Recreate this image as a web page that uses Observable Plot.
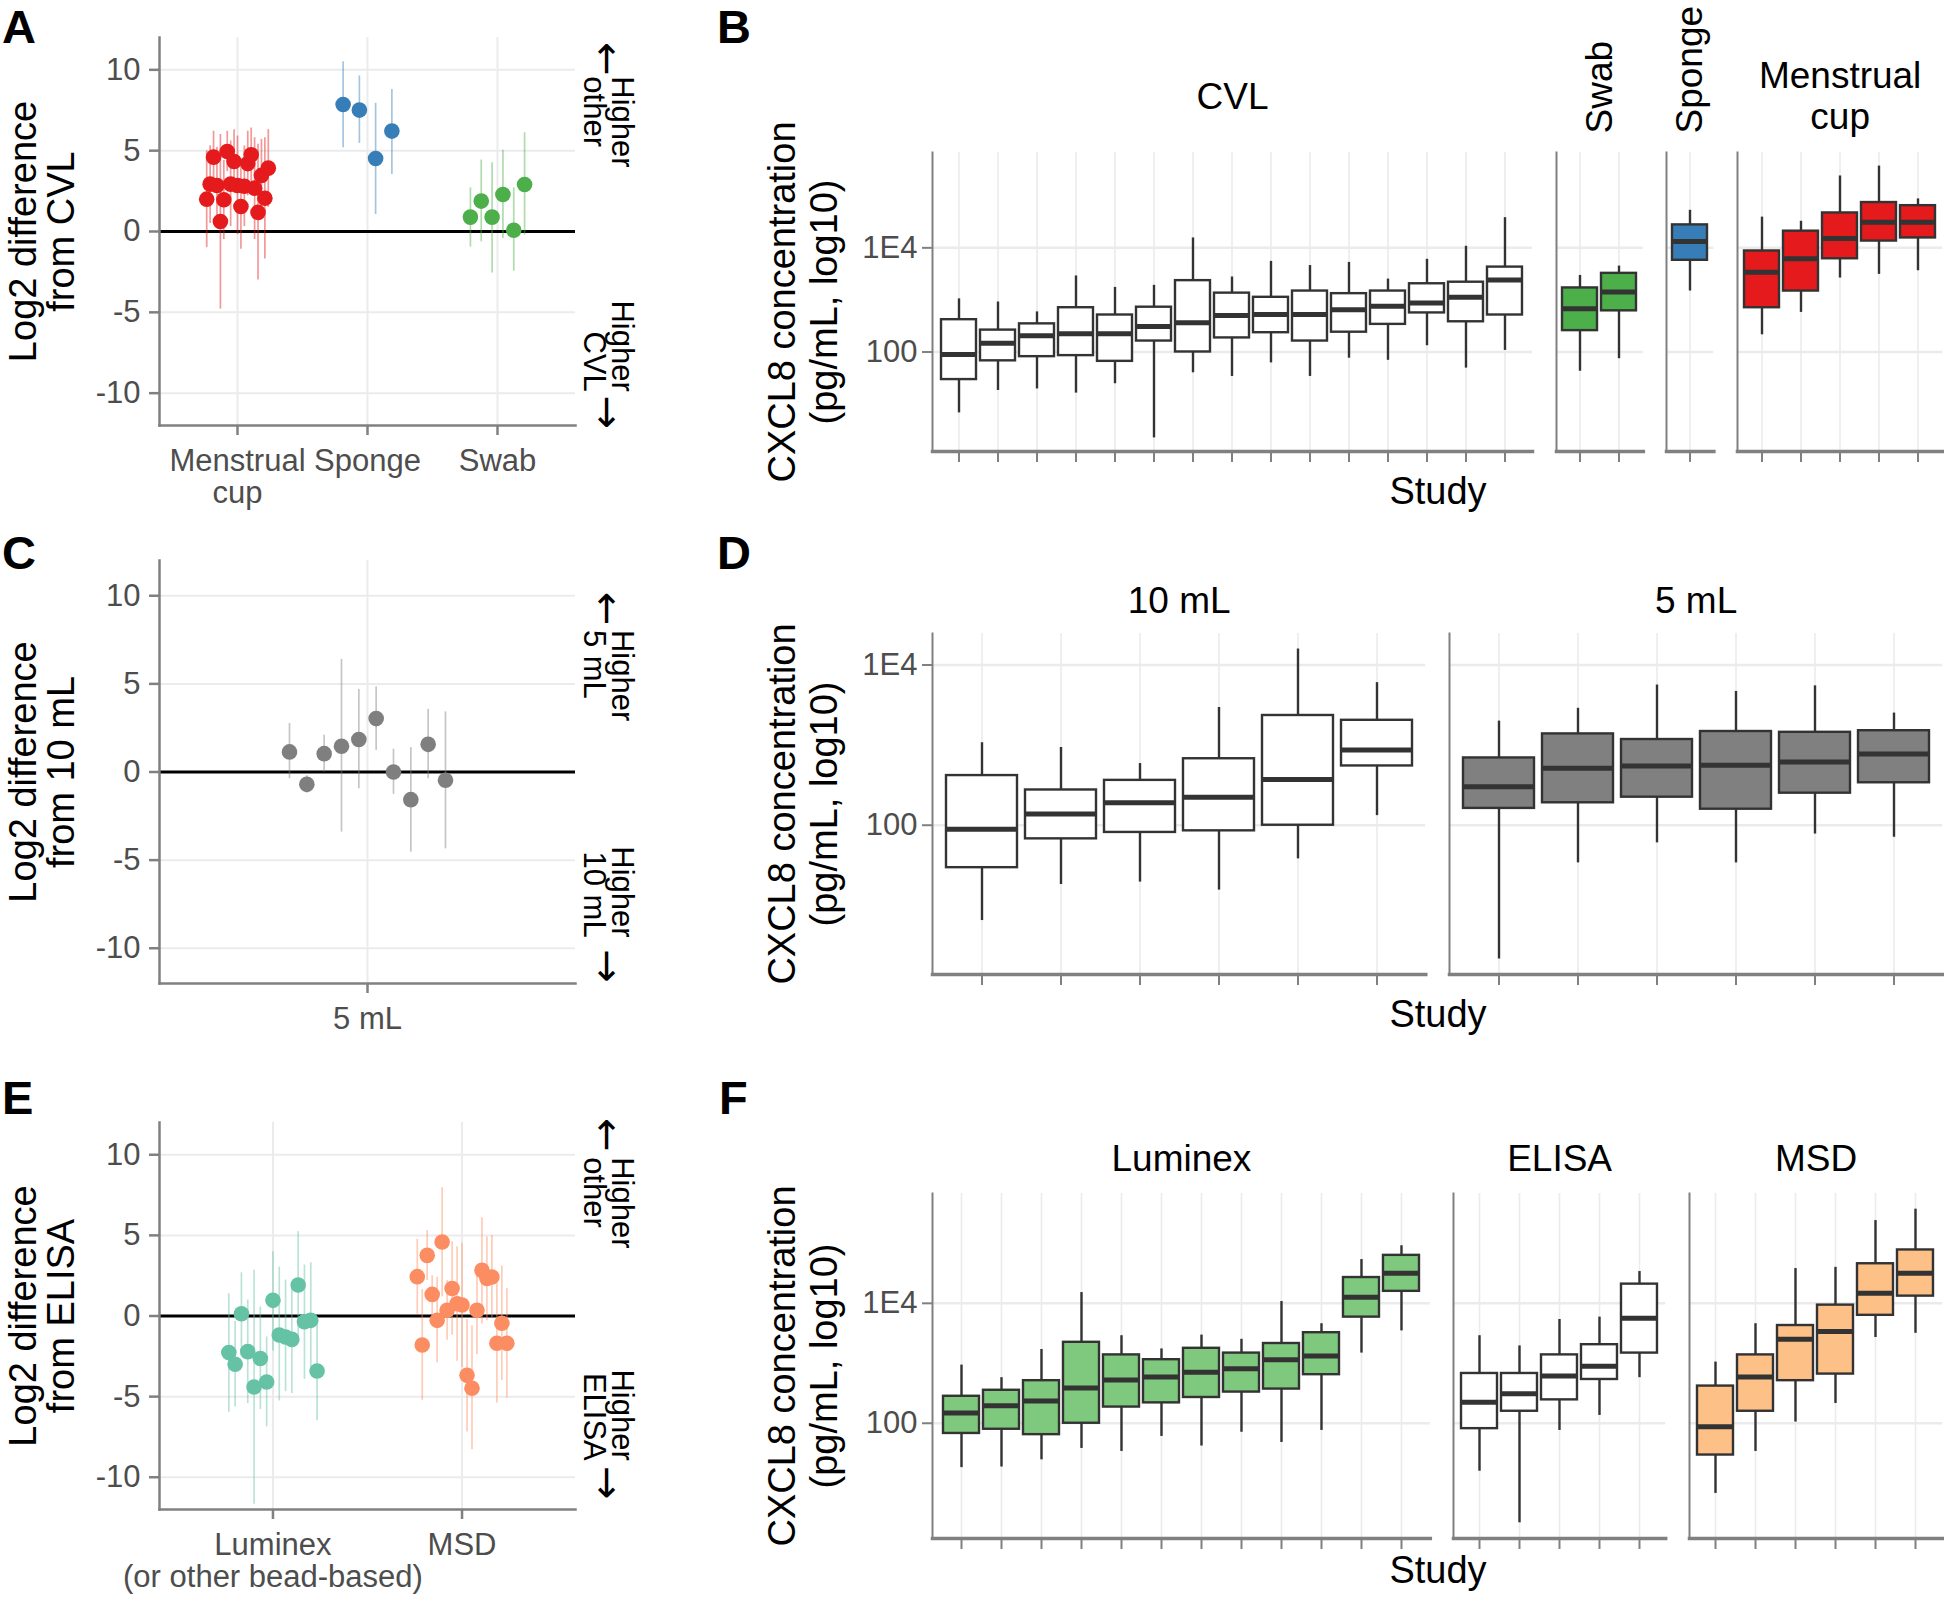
<!DOCTYPE html>
<html><head><meta charset="utf-8">
<script src="https://cdn.jsdelivr.net/npm/d3@7"></script>
<script src="https://cdn.jsdelivr.net/npm/@observablehq/plot@0.6"></script>
<style>
html,body{margin:0;padding:0;background:#fff;}
#fig{position:relative;width:1944px;height:1597px;background:#fff;overflow:hidden;font-family:"Liberation Sans",Arial,Helvetica,sans-serif;}
.lbl{position:absolute;font-weight:bold;font-size:47px;line-height:47px;color:#000;}
.study{position:absolute;font-size:38px;line-height:38px;color:#000;transform:translateX(-50%);white-space:nowrap;}
</style></head><body><div id="fig"></div>
<script>
// ---------------- DATA ----------------
// Panel A: log2 difference from CVL (estimate, CI low, CI high), per study, in plotted order
const aGroups = ["Menstrual cup", "Sponge", "Swab"];
const aTickLabels = ["Menstrual\ncup", "Sponge", "Swab"];
const aColors = ["#E41A1C", "#377EB8", "#4DAF4A"];
const aCupEst = [2.0, 2.93, 4.6, 2.85, 0.62, 1.96, 4.95, 2.93, 4.33, 2.85, 1.55, 2.8, 4.2, 4.75, 2.68, 1.18, 3.47, 2.06, 3.92];
const aCupLo  = [-1.0, 0.5, 3.0, 0.5, -4.8, -0.5, 3.7, 0.3, 2.4, -0.2, -1.1, 0.3, 2.2, 3.1, -0.5, -3.0, 1.2, -1.7, 1.5];
const aCupHi  = [5.0, 5.3, 6.2, 5.2, 6.0, 4.4, 6.2, 5.6, 6.3, 5.9, 4.2, 5.3, 6.2, 6.4, 5.8, 5.4, 5.7, 5.8, 6.3];
const aSpongeEst = [7.86, 7.51, 4.52, 6.21];
const aSpongeLo  = [5.18, 5.45, 1.05, 3.53];
const aSpongeHi  = [10.5, 9.62, 7.93, 8.79];
const aSwabEst = [0.89, 1.88, 0.89, 2.29, 0.08, 2.91];
const aSwabLo  = [-0.97, -0.64, -2.56, -0.43, -2.46, -0.23];
const aSwabHi  = [2.70, 4.42, 4.25, 5.02, 2.70, 6.11];

// Panel C: log2 difference from 10 mL
const cGroups = ["5 mL"];
const cColor = "#7F7F7F";
const cEst = [1.14, -0.70, 1.04, 1.46, 1.84, 3.03, 0.0, -1.57, 1.57, -0.47];
const cLo  = [-0.38, -1.19, 0.0, -3.41, -0.95, 1.23, -1.27, -4.55, -0.38, -4.36];
const cHi  = [2.75, -0.21, 2.09, 6.39, 4.68, 4.83, 1.29, 1.38, 3.56, 3.41];

// Panel E: log2 difference from ELISA
const eGroups = ["Luminex", "MSD"];
const eTickLabels = ["Luminex\n(or other bead-based)", "MSD"];
const eColors = ["#66C2A5", "#FC8D62"];
const eLumEst = [-2.27, -2.99, 0.14, -2.21, -4.40, -2.64, -4.09, 0.97, -1.18, -1.30, -1.45, 1.92, -0.35, -0.27, -3.41];
const eLumLo  = [-5.97, -5.64, -2.4, -5.43, -11.68, -5.8, -6.88, -2.17, -5.27, -4.69, -4.81, -1.34, -3.92, -3.2, -6.5];
const eLumHi  = [1.38, -0.34, 2.68, 0.99, 2.83, 0.56, -1.30, 3.99, 3.04, 2.23, 1.71, 5.23, 3.16, 3.30, -0.3];
const eMsdEst = [2.44, -1.80, 3.76, 1.34, -0.27, 4.59, 0.35, 1.71, 0.76, 0.68, -3.68, -4.48, 0.35, 2.83, 2.33, 2.42, -1.69, -0.45, -1.69];
const eMsdLo  = [0.1, -5.23, 2.2, 0.1, -2.9, 1.2, -1.5, -1.2, -2.8, -3.2, -7.2, -8.3, -2.4, -0.5, -0.3, -0.1, -5.4, -4.0, -5.1];
const eMsdHi  = [4.75, 1.65, 5.31, 2.5, 2.4, 7.95, 2.2, 4.6, 4.3, 4.5, -0.2, -0.6, 3.1, 6.1, 4.9, 5.0, 2.0, 3.1, 1.7];

const diffTicks = [-10, -5, 0, 5, 10];

// Boxplots: CXCL8 concentration, log10 pg/mL, per study: [whisker low, Q1, median, Q3, whisker high]
const boxYTicks = [2, 4];
const boxYLabels = ["100", "1E4"];
const bCVL = [[0.83,1.47,1.95,2.62,3.02],[1.26,1.83,2.17,2.42,2.96],[1.29,1.91,2.31,2.54,2.77],[1.21,1.93,2.35,2.85,3.46],[1.39,1.82,2.35,2.71,3.24],[0.35,2.21,2.49,2.86,3.28],[1.60,2.00,2.56,3.37,4.19],[1.53,2.27,2.70,3.13,3.44],[1.79,2.37,2.72,3.05,3.74],[1.53,2.21,2.72,3.17,3.66],[1.88,2.38,2.81,3.12,3.72],[1.84,2.53,2.88,3.17,3.40],[2.12,2.75,2.94,3.31,3.78],[1.69,2.58,3.05,3.34,4.03],[2.03,2.71,3.38,3.63,4.58]];
const bSwab = [[1.63,2.41,2.83,3.23,3.47],[1.87,2.79,3.15,3.51,3.65]];
const bSponge = [[3.17,3.76,4.12,4.44,4.72]];
const bCup = [[2.33,2.85,3.53,3.94,4.59],[2.76,3.17,3.79,4.32,4.51],[3.42,3.79,4.18,4.67,5.38],[3.49,4.13,4.49,4.87,5.57],[3.56,4.19,4.49,4.81,4.94]];
const d10 = [[0.81,1.47,1.95,2.62,3.03],[1.26,1.83,2.14,2.44,2.97],[1.29,1.91,2.28,2.56,2.77],[1.19,1.93,2.35,2.83,3.47],[1.58,2.00,2.57,3.37,4.20],[2.12,2.74,2.94,3.31,3.78]];
const d5 = [[0.33,2.21,2.48,2.84,3.30],[1.53,2.28,2.71,3.14,3.46],[1.78,2.35,2.74,3.07,3.75],[1.53,2.20,2.75,3.17,3.67],[1.89,2.40,2.79,3.16,3.74],[1.85,2.53,2.89,3.18,3.40]];
const fLum = [[1.26,1.83,2.17,2.45,2.97],[1.27,1.90,2.29,2.55,2.76],[1.39,1.81,2.37,2.71,3.23],[1.58,2.00,2.59,3.35,4.18],[1.53,2.27,2.72,3.14,3.46],[1.78,2.34,2.77,3.06,3.24],[1.62,2.43,2.85,3.25,3.47],[1.85,2.52,2.91,3.17,3.40],[1.68,2.57,3.06,3.33,4.03],[1.88,2.81,3.12,3.51,3.66],[3.17,3.77,4.10,4.43,4.73],[3.54,4.20,4.50,4.80,4.96]];
const fElisa = [[1.20,1.91,2.35,2.83,3.46],[0.34,2.20,2.49,2.83,3.29],[1.88,2.39,2.79,3.14,3.73],[2.13,2.73,2.95,3.31,3.77],[2.76,3.17,3.75,4.32,4.53]];
const fMsd = [[0.83,1.47,1.94,2.62,3.02],[1.53,2.20,2.77,3.14,3.66],[2.02,2.71,3.40,3.63,4.58],[2.33,2.82,3.53,3.97,4.60],[3.43,3.80,4.17,4.66,5.38],[3.50,4.12,4.50,4.89,5.57]];

// ---------------- STYLE ----------------
const FONT = '"Liberation Sans", Arial, Helvetica, sans-serif';
const ARROW_FONT = '"DejaVu Sans", sans-serif';
const AXIS_GRAY = "#808080", TEXT_GRAY = "#4d4d4d", GRID = "#ebebeb", BOX_LINE = "#333333";
const fig = document.getElementById("fig");
function place(svg, left, top) {
  svg.style.position = "absolute";
  svg.style.left = left + "px";
  svg.style.top = top + "px";
  fig.appendChild(svg);
}
function baseStyle() { return {fontFamily: FONT, background: "transparent", overflow: "visible", color: "#000"}; }

// position_dodge(width = 0.5) within each category
function dodgeRows(groups) {
  const out = [];
  groups.forEach((g, gi) => {
    const n = g.est.length;
    g.est.forEach((e, i) => out.push({x: gi + 1 - 0.25 + (i + 0.5) * 0.5 / n, est: e, lo: g.lo[i], hi: g.hi[i], color: g.color}));
  });
  return out;
}

function dotPanel(cfg) {
  const rows = dodgeRows(cfg.groups);
  const k = cfg.tickLabels.length;
  const cats = d3.range(1, k + 1);
  const svg = Plot.plot({
    width: cfg.width, height: cfg.height,
    marginLeft: cfg.mL, marginRight: cfg.mR, marginTop: cfg.mT, marginBottom: cfg.mB,
    x: {type: "linear", domain: [0.4, k + 0.6]},
    y: {type: "linear", domain: [-12, 12]},
    style: baseStyle(),
    marks: [
      Plot.gridY({ticks: diffTicks, stroke: GRID, strokeOpacity: 1, strokeWidth: 2}),
      Plot.gridX({ticks: cats, stroke: GRID, strokeOpacity: 1, strokeWidth: 2}),
      Plot.ruleY([0], {stroke: "#000", strokeWidth: 3.2}),
      Plot.ruleX(rows, {x: "x", y1: "lo", y2: "hi", stroke: "color", strokeOpacity: 0.45, strokeWidth: 1.7}),
      Plot.dot(rows, {x: "x", y: "est", fill: "color", r: 7.8}),
      Plot.frame({anchor: "left", stroke: AXIS_GRAY, strokeWidth: 2.5}),
      Plot.frame({anchor: "bottom", stroke: AXIS_GRAY, strokeWidth: 2.5}),
      Plot.axisY({ticks: diffTicks, tickFormat: d => String(d), tickSize: 10, tickPadding: 9, fontSize: 31, fill: TEXT_GRAY, stroke: AXIS_GRAY, strokeWidth: 2.5, label: null}),
      Plot.axisX({ticks: cats, tickSize: 10, tickFormat: () => "", stroke: AXIS_GRAY, strokeWidth: 2.5, label: null}),
      Plot.text(cfg.tickLabels, {x: (d, i) => i + 1, text: d => d, frameAnchor: "bottom", textAnchor: "middle", lineAnchor: "top", dy: 23, fontSize: 31, lineHeight: 1.03, fill: TEXT_GRAY}),
      Plot.text([cfg.title], {text: d => d, frameAnchor: "left", rotate: -90, dx: -117, fontSize: 38, lineHeight: 1.0, textAnchor: "middle", lineAnchor: "middle", fill: "#000"}),
      Plot.text([{t: "\u2190", y: cfg.ann.upArrow}], {y: "y", text: "t", frameAnchor: "right", dx: 31, rotate: 90, textAnchor: "middle", lineAnchor: "middle", fontSize: 40, fontFamily: ARROW_FONT, fill: "#000"}),
      Plot.text([{t: cfg.ann.upText, y: cfg.ann.upStart}], {y: "y", text: "t", frameAnchor: "right", dx: 8, rotate: 90, textAnchor: "start", lineAnchor: "bottom", fontSize: 31, lineHeight: 0.935, fill: "#000"}),
      Plot.text([{t: cfg.ann.downText, y: cfg.ann.downEnd}], {y: "y", text: "t", frameAnchor: "right", dx: 8, rotate: 90, textAnchor: "end", lineAnchor: "bottom", fontSize: 31, lineHeight: 0.935, fill: "#000"}),
      Plot.text([{t: "\u2192", y: cfg.ann.downArrow}], {y: "y", text: "t", frameAnchor: "right", dx: 31, rotate: 90, textAnchor: "middle", lineAnchor: "middle", fontSize: 40, fontFamily: ARROW_FONT, fill: "#000"})
    ]
  });
  place(svg, cfg.left, cfg.top);
}

function boxRow(cfg) {
  const all = cfg.facets.flatMap(f => f.rows);
  const lo = d3.min(all, r => r[0]), hi = d3.max(all, r => r[4]);
  const pad = (hi - lo) * 0.05;
  const yDomain = [lo - pad, hi + pad];
  const units = cfg.facets.map(f => f.rows.length + 0.2);
  const unit = (cfg.x1 - cfg.x0 - cfg.gap * (cfg.facets.length - 1)) / d3.sum(units);
  const h = cfg.frameBottom - cfg.frameTop;
  const mT = cfg.frameTop - cfg.top, mB = 26;
  let left = cfg.x0;
  cfg.facets.forEach((f, fi) => {
    const w = units[fi] * unit;
    const first = fi === 0;
    const mL = first ? 200 : 4, mR = 4;
    const data = f.rows.map((r, i) => ({id: f.key + "-" + (i + 1), lo: r[0], q1: r[1], med: r[2], q3: r[3], hi: r[4]}));
    const marks = [
      Plot.gridY({ticks: boxYTicks, stroke: GRID, strokeOpacity: 1, strokeWidth: 2.5}),
      Plot.gridX({stroke: GRID, strokeOpacity: 1, strokeWidth: 1.6}),
      Plot.ruleX(data, {x: "id", y1: "lo", y2: "hi", stroke: BOX_LINE, strokeWidth: 2.4}),
      Plot.barY(data, {x: "id", y1: "q1", y2: "q3", fill: f.fill, stroke: BOX_LINE, strokeWidth: 2.4}),
      Plot.tickY(data, {x: "id", y: "med", stroke: BOX_LINE, strokeWidth: 5}),
      Plot.frame({anchor: "left", stroke: AXIS_GRAY, strokeWidth: 2}),
      Plot.frame({anchor: "bottom", stroke: AXIS_GRAY, strokeWidth: 3.5}),
      Plot.axisX({tickSize: 11, tickFormat: () => "", stroke: AXIS_GRAY, strokeWidth: 2, label: null}),
      f.rotate
        ? Plot.text([f.strip], {text: d => d, frameAnchor: "top", dy: -19, rotate: -90, textAnchor: "start", lineAnchor: "middle", fontSize: 37, fill: "#000"})
        : Plot.text([f.strip], {text: d => d, frameAnchor: "top", dy: cfg.stripDy, textAnchor: "middle", lineAnchor: "middle", lineHeight: 1.1, fontSize: 37, fill: "#000"})
    ];
    if (first) {
      marks.push(Plot.axisY({ticks: boxYTicks, tickFormat: d => boxYLabels[boxYTicks.indexOf(d)], tickSize: 10, tickPadding: 5, fontSize: 31, fill: TEXT_GRAY, stroke: AXIS_GRAY, strokeWidth: 2, label: null}));
      marks.push(Plot.text([cfg.title], {text: d => d, frameAnchor: "left", rotate: -90, dx: -130, fontSize: 38, lineHeight: 1.1, textAnchor: "middle", lineAnchor: "middle", fill: "#000"}));
    }
    const svg = Plot.plot({
      width: w + mL + mR, height: h + mT + mB,
      marginLeft: mL, marginRight: mR, marginTop: mT, marginBottom: mB,
      x: {type: "band", domain: data.map(d => d.id), paddingInner: 0.1, paddingOuter: 0.15, align: 0.5},
      y: first ? {type: "linear", domain: yDomain} : {type: "linear", domain: yDomain, axis: null},
      style: baseStyle(),
      marks
    });
    place(svg, left - mL, cfg.top);
    left += w + cfg.gap;
  });
}

// ---------------- PANELS ----------------
dotPanel({
  left: 0, top: 0, width: 660, height: 520, mL: 159, mR: 85, mT: 37, mB: 95,
  tickLabels: aTickLabels, title: "Log2 difference\nfrom CVL",
  groups: [
    {est: aCupEst, lo: aCupLo, hi: aCupHi, color: aColors[0]},
    {est: aSpongeEst, lo: aSpongeLo, hi: aSpongeHi, color: aColors[1]},
    {est: aSwabEst, lo: aSwabLo, hi: aSwabHi, color: aColors[2]}
  ],
  ann: {upText: "Higher\nother", downText: "Higher\nCVL", upArrow: 10.68, upStart: 9.6, downEnd: -9.91, downArrow: -11.2}
});
dotPanel({
  left: 0, top: 540, width: 660, height: 520, mL: 159, mR: 85, mT: 20, mB: 77,
  tickLabels: cGroups, title: "Log2 difference\nfrom 10 mL",
  groups: [{est: cEst, lo: cLo, hi: cHi, color: cColor}],
  ann: {upText: "Higher\n5 mL", downText: "Higher\n10 mL", upArrow: 9.28, upStart: 8.06, downEnd: -9.4, downArrow: -11.02}
});
dotPanel({
  left: 0, top: 1100, width: 660, height: 497, mL: 159, mR: 85, mT: 22, mB: 88,
  tickLabels: eTickLabels, title: "Log2 difference\nfrom ELISA",
  groups: [
    {est: eLumEst, lo: eLumLo, hi: eLumHi, color: eColors[0]},
    {est: eMsdEst, lo: eMsdLo, hi: eMsdHi, color: eColors[1]}
  ],
  ann: {upText: "Higher\nother", downText: "Higher\nELISA", upArrow: 11.24, upStart: 9.85, downEnd: -8.98, downArrow: -10.35}
});

const concTitle = "CXCL8 concentration\n(pg/mL, log10)";
boxRow({
  top: 0, frameTop: 152, frameBottom: 451, x0: 932, x1: 1942, gap: 23.5, stripDy: -57, title: concTitle,
  facets: [
    {key: "CVL", strip: "CVL", rows: bCVL, fill: "#FFFFFF"},
    {key: "Swab", strip: "Swab", rows: bSwab, fill: "#4DAF4A", rotate: true},
    {key: "Sponge", strip: "Sponge", rows: bSponge, fill: "#377EB8", rotate: true},
    {key: "Cup", strip: "Menstrual\ncup", rows: bCup, fill: "#E41A1C"}
  ]
});
boxRow({
  top: 540, frameTop: 633, frameBottom: 974, x0: 932, x1: 1942, gap: 23.5, stripDy: -34, title: concTitle,
  facets: [
    {key: "10mL", strip: "10 mL", rows: d10, fill: "#FFFFFF"},
    {key: "5mL", strip: "5 mL", rows: d5, fill: "#808080"}
  ]
});
boxRow({
  top: 1110, frameTop: 1193, frameBottom: 1538, x0: 932, x1: 1942, gap: 23.5, stripDy: -36, title: concTitle,
  facets: [
    {key: "Luminex", strip: "Luminex", rows: fLum, fill: "#7FC97F"},
    {key: "ELISA", strip: "ELISA", rows: fElisa, fill: "#FFFFFF"},
    {key: "MSD", strip: "MSD", rows: fMsd, fill: "#FDC086"}
  ]
});

// ---------------- HTML TEXT ----------------
function addDiv(cls, text, left, top) {
  const d = document.createElement("div");
  d.className = cls; d.textContent = text;
  d.style.left = left + "px"; d.style.top = top + "px";
  fig.appendChild(d);
}
const panelLetters = ["A", "B", "C", "D", "E", "F"];
const letterPos = [[2, 3], [717, 3], [2, 529], [717, 529], [2, 1074], [719, 1074]];
panelLetters.forEach((l, i) => addDiv("lbl", l, letterPos[i][0], letterPos[i][1]));
const studyTops = [472, 995, 1551];
studyTops.forEach(t => addDiv("study", "Study", 1438, t));
</script></body></html>
